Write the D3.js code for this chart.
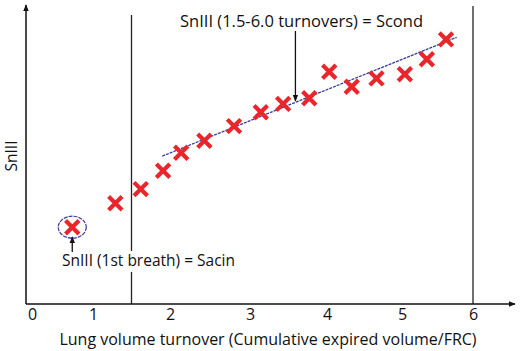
<!DOCTYPE html>
<html>
<head>
<meta charset="utf-8">
<script src="https://cdn.jsdelivr.net/npm/d3@7"></script>
<style>
  body { margin: 0; background: #fff; }
  text { font-family: "Open Sans", Lato, sans-serif; fill: #111; }
</style>
</head>
<body>
<div id="vis"></div>
<script>
// Datos (SnIII en unidades arbitrarias)
const turnover = [0.66, 1.29, 1.62, 1.91, 2.14, 2.43, 2.80, 3.14, 3.43, 3.77, 4.03, 4.33, 4.66, 5.04, 5.35, 5.62];
const snIII = [25.6, 33.6, 38.3, 44.4, 50.4, 54.4, 59.3, 63.9, 66.7, 68.6, 77.4, 72.4, 75.2, 76.6, 81.6, 88.2];
const xTicks = [0, 1, 2, 3, 4, 5, 6];
const trendX = [1.90, 5.77];
const trendY = [49.3, 88.9];
const phaseLimits = [1.5, 6];

const WIDTH = 522;
const HEIGHT = 351;
const FONT = "16px";

const SVG = d3.select("#vis").append("svg")
    .attr("width", WIDTH).attr("height", HEIGHT);

// eje x dibujado a mano en el original, las marcas no son equidistantes
const x = d3.scaleLinear()
    .domain([-0.1, 0, 1, 2, 3, 4, 5, 6, 6.6])
    .range([26, 32, 93, 170, 250, 327, 402, 473, 515]);

const y = d3.scaleLinear()
    .domain([0, 100])
    .range([304, 4]);

const defs = SVG.append("defs");
defs.append("marker")
    .attr("id", "arrow")
    .attr("viewBox", "0 0 10 10")
    .attr("refX", 9).attr("refY", 5)
    .attr("markerWidth", 7).attr("markerHeight", 7)
    .attr("markerUnits", "userSpaceOnUse")
    .attr("orient", "auto")
    .append("path")
    .attr("d", "M0,1L10,5L0,9Z")
    .attr("fill", "#111");

// lineas verticales de fase
SVG.selectAll(".limit")
    .data(phaseLimits)
    .join("line")
    .attr("class", "limit")
    .attr("x1", d => x(d)).attr("x2", d => x(d))
    .attr("y1", (d, i) => i == 0 ? y(96.3) : y(99.3))
    .attr("y2", y(0))
    .attr("stroke", "#222")
    .attr("stroke-width", 1.3);

// ejes
SVG.append("line")
    .attr("x1", x(-0.1)).attr("x2", x(-0.1))
    .attr("y1", y(0)).attr("y2", y(99.7))
    .attr("stroke", "#111").attr("stroke-width", 1.5)
    .attr("marker-end", "url(#arrow)");

SVG.append("line")
    .attr("x1", x(-0.1)).attr("x2", x(6.6))
    .attr("y1", y(0)).attr("y2", y(0))
    .attr("stroke", "#111").attr("stroke-width", 1.5)
    .attr("marker-end", "url(#arrow)");

const xAxis = SVG.append("g")
    .attr("transform", `translate(0, ${y(0)})`)
    .call(d3.axisBottom(x).tickValues(xTicks).tickFormat(d3.format("d")).tickSize(0).tickPadding(5));
xAxis.select(".domain").remove();
xAxis.selectAll("text")
    .style("font-family", "'Open Sans', Lato, sans-serif")
    .style("font-size", FONT)
    .attr("fill", "#111");

SVG.append("text")
    .attr("x", 268).attr("y", 345)
    .attr("text-anchor", "middle")
    .style("font-size", FONT)
    .text("Lung volume turnover (Cumulative expired volume/FRC)");

SVG.append("text")
    .attr("transform", "translate(17, 156) rotate(-90)")
    .attr("text-anchor", "middle")
    .style("font-size", "15.5px")
    .text("SnIII");

// recta de ajuste
SVG.append("line")
    .attr("x1", x(trendX[0])).attr("y1", y(trendY[0]))
    .attr("x2", x(trendX[1])).attr("y2", y(trendY[1]))
    .attr("stroke", "#3a3a9c")
    .attr("stroke-width", 1.3)
    .attr("stroke-dasharray", "3,1");

// puntos
const datos = turnover.map((t, i) => ({ t: t, s: snIII[i] }));
SVG.selectAll(".pt")
    .data(datos)
    .join("path")
    .attr("class", "pt")
    .attr("transform", d => `translate(${x(d.t)}, ${y(d.s)})`)
    .attr("d", d3.symbol(d3.symbolX, 120))
    .attr("fill", "none")
    .attr("stroke", "#e8262b")
    .attr("stroke-width", 4.2);

// elipse del primer respiro
SVG.append("ellipse")
    .attr("cx", x(turnover[0]))
    .attr("cy", y(snIII[0]))
    .attr("rx", 14).attr("ry", 11)
    .attr("fill", "none")
    .attr("stroke", "#3a3a9c")
    .attr("stroke-width", 1.2)
    .attr("stroke-dasharray", "4,1");

// anotacion Sacin
const sacin = SVG.append("g");
sacin.append("rect")
    .attr("x", 60).attr("y", 251)
    .attr("width", 190).attr("height", 21)
    .attr("fill", "#fff");
sacin.append("line")
    .attr("x1", x(turnover[0])).attr("x2", x(turnover[0]))
    .attr("y1", 252).attr("y2", 237)
    .attr("stroke", "#111").attr("stroke-width", 1.3)
    .attr("marker-end", "url(#arrow)");
sacin.append("text")
    .attr("x", 62).attr("y", 266)
    .style("font-size", "15.5px")
    .text("SnIII (1st breath) = Sacin");

// anotacion Scond
SVG.append("line")
    .attr("x1", x(3.59)).attr("x2", x(3.59))
    .attr("y1", 31).attr("y2", 101)
    .attr("stroke", "#111").attr("stroke-width", 1.3)
    .attr("marker-end", "url(#arrow)");
SVG.append("text")
    .attr("x", 180).attr("y", 27)
    .style("font-size", "16.5px")
    .text("SnIII (1.5-6.0 turnovers) = Scond");
</script>
</body>
</html>
